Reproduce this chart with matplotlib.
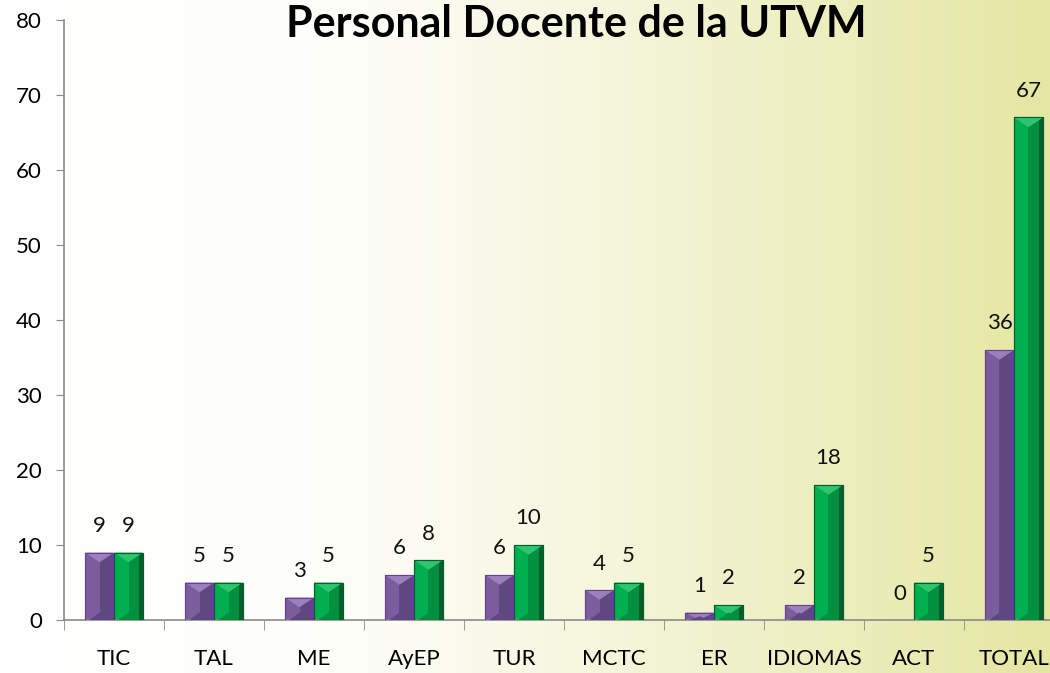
import numpy as np
import matplotlib.pyplot as plt
from matplotlib.patches import Polygon, Rectangle
from matplotlib.colors import LinearSegmentedColormap

plt.rcParams['font.family'] = ['Lato', 'DejaVu Sans']

categories = ["TIC", "TAL", "ME", "AyEP", "TUR", "MCTC", "ER", "IDIOMAS", "ACT", "TOTAL"]
serie_morada = [9, 5, 3, 6, 6, 4, 1, 2, 0, 36]
serie_verde = [9, 5, 5, 8, 10, 5, 2, 18, 5, 67]

fig = plt.figure(figsize=(10.5, 6.73), dpi=100)

# fondo degradado blanco -> amarillo verdoso
bg = fig.add_axes([0, 0, 1, 1], zorder=-10)
bg_cmap = LinearSegmentedColormap.from_list(
    "bg", [(0, "#ffffff"), (0.35, "#fdfdf8"), (0.6, "#f4f5d8"), (1, "#e4e7a2")])
grad = np.linspace(0, 1, 256).reshape(1, -1)
bg.imshow(grad, aspect="auto", cmap=bg_cmap, extent=[0, 1, 0, 1])
bg.axis("off")

ax = fig.add_axes([64 / 1050, 53 / 673, 1000 / 1050, 600 / 673])
ax.patch.set_alpha(0)

x = np.arange(len(categories))
w = 0.29


def bevel_bars(xs, vals, base, light, dark, edge):
    bars = ax.bar(xs, vals, w, color=base, edgecolor=edge, linewidth=0.8, zorder=2)
    for b in bars:
        x0, h, bw = b.get_x(), b.get_height(), b.get_width()
        if h <= 0:
            continue
        # cara derecha oscura
        ax.add_patch(Rectangle((x0 + bw * 0.5, 0), bw * 0.5, h, color=dark, lw=0, zorder=3))
        ax.add_patch(Rectangle((x0 + bw * 0.85, 0), bw * 0.15, h, color=edge, lw=0, zorder=3))
        # bisel superior
        d = min(1.3, h)
        ax.add_patch(Polygon([(x0, h), (x0 + bw, h), (x0 + bw * 0.5, h - d)],
                             closed=True, color=light, lw=0, zorder=4))
        # bisel inferior
        d2 = min(1.0, h * 0.5)
        ax.add_patch(Polygon([(x0 + bw * 0.15, 0), (x0 + bw * 0.85, 0), (x0 + bw * 0.5, d2)],
                             closed=True, color=dark, lw=0, zorder=4))
        ax.add_patch(Rectangle((x0, 0), bw, h, fill=False, edgecolor=edge, lw=0.8, zorder=5))
    return bars


bevel_bars(x - w / 2, serie_morada, "#7b5d9e", "#9a81bb", "#5f4880", "#6a3d9a")
bevel_bars(x + w / 2, serie_verde, "#00b050", "#2fc56f", "#00903f", "#005f2a")

for xi, v in zip(x - w / 2, serie_morada):
    ax.text(xi, v + 2.2, str(v), ha="center", va="bottom", fontsize=16, color="#111111")
for xi, v in zip(x + w / 2, serie_verde):
    ax.text(xi, v + 2.2, str(v), ha="center", va="bottom", fontsize=16, color="#111111")

ax.set_xlim(-0.5, len(categories) - 0.5)
ax.set_ylim(0, 80)
ax.set_yticks(range(0, 81, 10))
ax.set_xticks(x)
ax.set_xticklabels(categories)
ax.set_xticks(np.arange(-0.5, len(categories), 1), minor=True)
ax.tick_params(axis="x", which="major", length=0, pad=21, labelsize=16)
ax.tick_params(axis="x", which="minor", length=7, color="#8a8a8a", direction="out")
ax.tick_params(axis="y", length=6, color="#8a8a8a", labelsize=16, pad=10)

for s in ["top", "right"]:
    ax.spines[s].set_visible(False)
for s in ["left", "bottom"]:
    ax.spines[s].set_color("#8a8a8a")
    ax.spines[s].set_linewidth(1.2)

fig.text(576 / 1050, 1 - 24 / 673, "Personal Docente de la UTVM", ha="center", va="center",
         fontsize=31, fontweight="bold", color="#000000")

plt.savefig("out.png", dpi=100)
